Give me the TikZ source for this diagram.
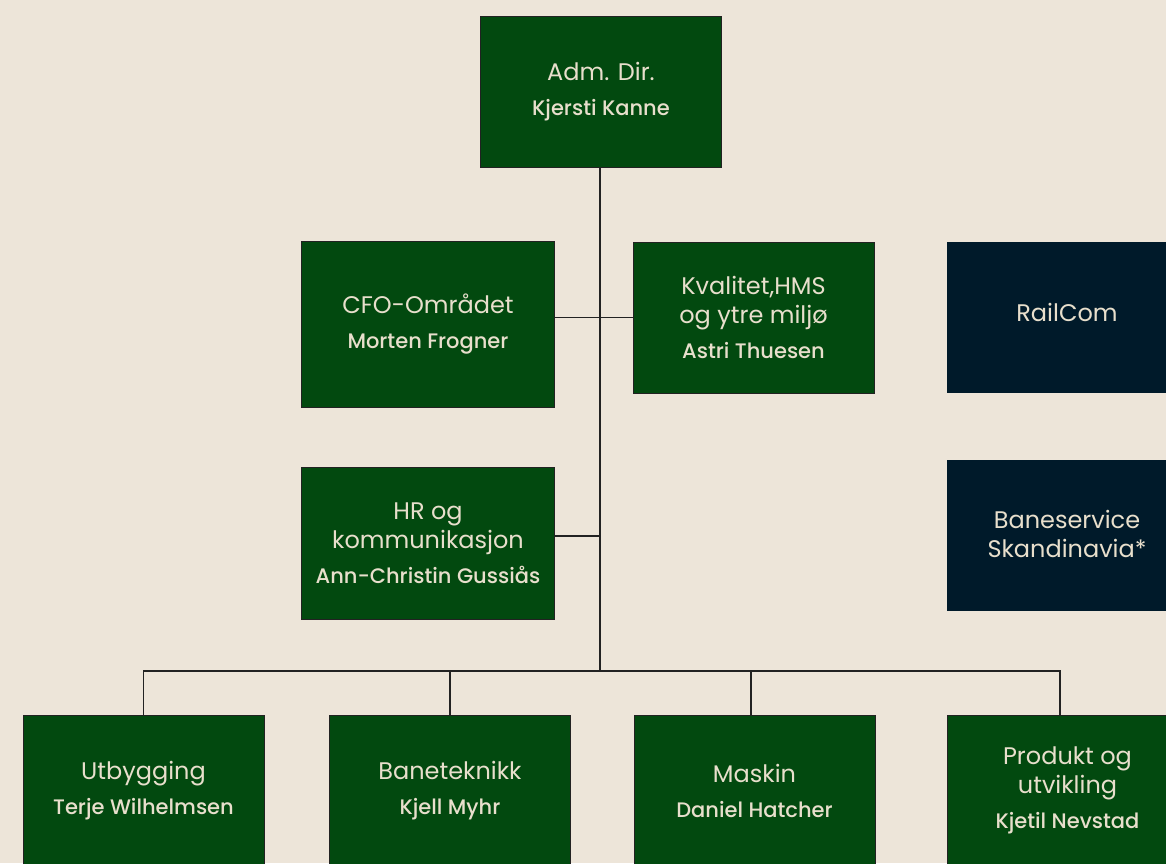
\documentclass[tikz,border=0pt]{standalone}
\usepackage{fontspec}
\setmainfont{Poppins}
\newfontfamily\namefont{Poppins Medium}
\definecolor{bgc}{HTML}{EDE5D9}
\definecolor{grn}{HTML}{02490F}
\definecolor{navy}{HTML}{001A2A}
\definecolor{txt}{HTML}{E8DFCC}
\definecolor{lin}{HTML}{222222}
\tikzset{
  gbox/.style={draw=lin, line width=1pt, fill=grn, text=txt, align=center, inner sep=0pt, font=\fontsize{24}{29}\selectfont},
  nbox/.style={draw=none, fill=navy, text=txt, align=center, inner sep=0pt, font=\fontsize{24}{29}\selectfont},
  conn/.style={draw=lin, line width=1.2pt},
}
\newcommand{\nm}[1]{{\namefont\fontsize{21}{24}\selectfont #1}}
\begin{document}
\begin{tikzpicture}[x=1pt,y=-1pt]
\fill[bgc] (0,0) rectangle (1166,863);
\useasboundingbox (0,0) rectangle (1166,863);
% boxes
\node[gbox, minimum width=241, minimum height=151] (adm) at (601,92) {Adm. Dir.\\[6pt]\nm{Kjersti Kanne}};
\node[gbox, minimum width=253, minimum height=166] (cfo) at (428,324.5) {CFO-Området\\[6pt]\nm{Morten Frogner}};
\node[gbox, minimum width=241, minimum height=151] (kval) at (753.5,317.5) {Kvalitet,HMS\\og ytre miljø\\[6pt]\nm{Astri Thuesen}};
\node[nbox, minimum width=241, minimum height=151] (rail) at (1067,317.5) {\raisebox{10pt}{RailCom}};
\node[nbox, minimum width=241, minimum height=151] (bane) at (1067,535) {Baneservice\\Skandinavia*\\[-26pt]\mbox{}};
\node[gbox, minimum width=253, minimum height=152] (hr) at (428,543) {HR og\\kommunikasjon\\[6pt]\nm{Ann-Christin Gussiås}};
\node[gbox, minimum width=241, minimum height=151] (utb) at (143.5,790.5) {Utbygging\\[6pt]\nm{Terje Wilhelmsen}};
\node[gbox, minimum width=241, minimum height=151] (btek) at (450,790.5) {Baneteknikk\\[6pt]\nm{Kjell Myhr}};
\node[gbox, minimum width=241, minimum height=151] (mask) at (754.5,790.5) {Maskin\\[6pt]\nm{Daniel Hatcher}};
\node[gbox, minimum width=241, minimum height=151] (prod) at (1067.5,790.5) {Produkt og\\utvikling\\[6pt]\nm{Kjetil Nevstad}};
% connectors
\coordinate (bus) at (600,671);
\coordinate (jhr) at (600,536);
\coordinate (pdrop) at ([xshift=-7.5pt]prod.north);
\coordinate (mdrop) at ([xshift=-3.5pt]mask.north);
\draw[conn] (adm.south -| bus) -- (bus);
\draw[conn] (cfo.east |- kval.west) -- (kval.west);
\draw[conn] (hr.east |- jhr) -- (jhr);
\draw[conn] (utb.north) -- (utb.north |- bus) -- (pdrop |- bus) -- (pdrop);
\draw[conn] (btek.north |- bus) -- (btek.north);
\draw[conn] (mdrop |- bus) -- (mdrop);
\end{tikzpicture}
\end{document}
